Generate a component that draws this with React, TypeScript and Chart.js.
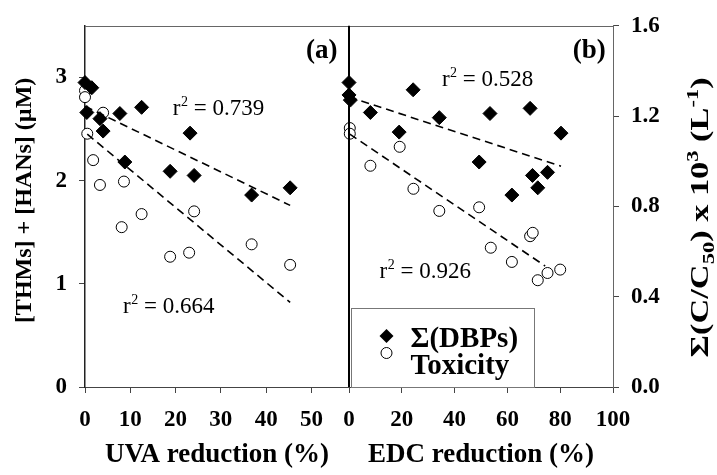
import React, { useEffect, useRef } from "react";
import { Chart, registerables } from "chart.js";

Chart.register(...registerables);

const FONT = "'Liberation Serif', 'Times New Roman', serif";

// ---- axis ranges & tick labels ----
const UVA_MAX = 58.3;
const EDC_MAX = 100;
const DBP_MAX = 3.5;
const TOX_MAX = 1.6;
const uvaTicks = [0, 10, 20, 30, 40, 50];
const edcTicks = [0, 20, 40, 60, 80, 100];
const dbpTicks = [0, 1, 2, 3];
const toxTicks = [0, 0.4, 0.8, 1.2, 1.6];

// ---- panel (a): UVA reduction ----
const uvaDbpX = [0, 1.5, 0.4, 3.3, 7.7, 12.5, 4.0, 23.2, 8.8, 18.8, 24.1, 36.8, 45.3];
const uvaDbpY = [2.95, 2.9, 2.66, 2.6, 2.65, 2.71, 2.48, 2.46, 2.18, 2.09, 2.05, 1.86, 1.93];
const uvaToxX = [0, 0, 4.0, 0.5, 1.8, 3.3, 8.6, 12.5, 8.1, 18.8, 23.0, 24.1, 36.8, 45.3];
const uvaToxY = [1.313, 1.284, 1.215, 1.122, 1.005, 0.895, 0.91, 0.766, 0.708, 0.577, 0.595, 0.778, 0.632, 0.541];
const uvaDbpFitX = [0, 45.3];
const uvaDbpFitY = [2.72, 1.76];
const uvaToxFitX = [0.5, 45.3];
const uvaToxFitY = [1.12, 0.375];

// ---- panel (b): EDC reduction ----
const edcDbpX = [0, 0, 0.5, 8.1, 24.3, 19.0, 34.2, 53.4, 68.6, 80.3, 49.3, 69.5, 75.2, 71.5, 61.7];
const edcDbpY = [2.95, 2.83, 2.78, 2.66, 2.88, 2.47, 2.61, 2.65, 2.7, 2.46, 2.18, 2.05, 2.08, 1.93, 1.86];
const edcToxX = [0.3, 0.3, 19.2, 8.1, 24.4, 34.2, 49.3, 53.7, 61.7, 68.6, 69.6, 71.5, 75.2, 80.0];
const edcToxY = [1.147, 1.122, 1.064, 0.98, 0.878, 0.78, 0.796, 0.617, 0.554, 0.668, 0.683, 0.473, 0.505, 0.52];
const edcDbpFitX = [0, 80.3];
const edcDbpFitY = [2.81, 2.14];
const edcToxFitX = [0.3, 74.3];
const edcToxFitY = [1.12, 0.536];

// ---- annotations (data units) ----
const r2Values = ["0.739", "0.664", "0.528", "0.926"];
const r2Axis = ["xa", "xa", "xb", "xb"];
const r2X = [19.4, 8.4, 35.2, 11.6];
const r2Y = [2.64, 0.72, 2.92, 1.06];
const panelLabels = ["(a)", "(b)"];
const panelAxis = ["xa", "xb"];
const panelX = [52.3, 91];
const panelY = [3.26, 3.26];
const legendLabels = ["Σ(DBPs)", "Toxicity"];

const pts = (xs: number[], ys: number[]) => xs.map((x, i) => ({ x, y: ys[i] }));

const overlay = {
  id: "overlay",
  afterDatasetsDraw(chart: any) {
    const { ctx, chartArea: ca, scales } = chart;
    const y = scales.y;
    const xb = scales.xb;
    ctx.save();
    // top border
    ctx.strokeStyle = "#666";
    ctx.lineWidth = 1;
    ctx.beginPath();
    ctx.moveTo(ca.left, Math.round(ca.top) + 0.5);
    ctx.lineTo(ca.right, Math.round(ca.top) + 0.5);
    ctx.stroke();
    // divider between panels
    ctx.strokeStyle = "#000";
    ctx.lineWidth = 2;
    ctx.beginPath();
    ctx.moveTo(xb.left, ca.top);
    ctx.lineTo(xb.left, ca.bottom);
    ctx.stroke();

    ctx.fillStyle = "#000";
    // r^2 labels
    for (let i = 0; i < r2Values.length; i++) {
      const px = scales[r2Axis[i]].getPixelForValue(r2X[i]);
      const py = y.getPixelForValue(r2Y[i]);
      ctx.textBaseline = "alphabetic";
      ctx.textAlign = "left";
      ctx.font = `23px ${FONT}`;
      ctx.fillText("r", px, py);
      let w = ctx.measureText("r").width;
      ctx.font = `14px ${FONT}`;
      ctx.fillText("2", px + w + 0.5, py - 9);
      w += ctx.measureText("2").width + 0.5;
      ctx.font = `23px ${FONT}`;
      ctx.fillText(" = " + r2Values[i], px + w, py);
    }
    // panel labels
    ctx.font = `bold 27px ${FONT}`;
    ctx.textAlign = "center";
    ctx.textBaseline = "middle";
    for (let i = 0; i < panelLabels.length; i++) {
      const px = scales[panelAxis[i]].getPixelForValue(panelX[i]);
      const py = y.getPixelForValue(panelY[i]);
      ctx.fillText(panelLabels[i], px, py);
    }

    // legend box
    const lx = xb.left + 1.5;
    const lw = 183;
    const lh = 79;
    const ly = ca.bottom - lh;
    ctx.fillStyle = "#fff";
    ctx.fillRect(lx, ly, lw, lh);
    ctx.strokeStyle = "#777";
    ctx.lineWidth = 1;
    ctx.strokeRect(Math.round(lx) + 0.5, Math.round(ly) + 0.5, lw, lh);
    const mx = lx + 36;
    // diamond
    const dy = ly + 28;
    ctx.fillStyle = "#000";
    ctx.beginPath();
    ctx.moveTo(mx, dy - 7);
    ctx.lineTo(mx + 7, dy);
    ctx.lineTo(mx, dy + 7);
    ctx.lineTo(mx - 7, dy);
    ctx.closePath();
    ctx.fill();
    // circle
    const cy = ly + 45;
    ctx.fillStyle = "#fff";
    ctx.strokeStyle = "#000";
    ctx.beginPath();
    ctx.arc(mx, cy, 5.5, 0, Math.PI * 2);
    ctx.fill();
    ctx.stroke();
    ctx.fillStyle = "#000";
    ctx.font = `bold 29px ${FONT}`;
    ctx.textAlign = "left";
    ctx.textBaseline = "middle";
    ctx.fillText(legendLabels[0], lx + 60, ly + 32);
    ctx.fillText(legendLabels[1], lx + 60, ly + 59);

    // right axis title with sub/superscripts
    const segs = [
      { t: "Σ(C/C", k: 0 },
      { t: "50", k: 1 },
      { t: ") x 10", k: 0 },
      { t: "3", k: 2 },
      { t: " (L", k: 0 },
      { t: "-1", k: 2 },
      { t: ")", k: 0 },
    ];
    const fonts = [`bold 26px ${FONT}`, `bold 17px ${FONT}`, `bold 17px ${FONT}`];
    const offs = [0, 6, -10];
    let total = 0;
    for (const s of segs) {
      ctx.font = fonts[s.k];
      total += ctx.measureText(s.t).width;
    }
    const target = 280;
    const cxT = scales.y2.right - 18;
    const cyT = (ca.top + ca.bottom) / 2 + 11;
    ctx.translate(cxT, cyT);
    ctx.rotate(-Math.PI / 2);
    ctx.scale(target / total, 1);
    let x = -total / 2;
    ctx.textAlign = "left";
    ctx.textBaseline = "alphabetic";
    for (const s of segs) {
      ctx.font = fonts[s.k];
      ctx.fillText(s.t, x, 9 + offs[s.k]);
      x += ctx.measureText(s.t).width;
    }
    ctx.restore();
  },
};

export default function App() {
  const ref = useRef<HTMLCanvasElement>(null);
  useEffect(() => {
    const canvas = ref.current!;
    const diamond = {
      type: "scatter",
      pointStyle: "rectRot",
      pointRadius: 7,
      backgroundColor: "#000",
      borderColor: "#000",
      borderWidth: 1,
      clip: false,
    };
    const circle = {
      type: "scatter",
      pointStyle: "circle",
      pointRadius: 5.5,
      backgroundColor: "#fff",
      borderColor: "#000",
      borderWidth: 1,
      clip: false,
    };
    const fit = {
      type: "line",
      borderColor: "#000",
      borderWidth: 1.6,
      borderDash: [8, 5],
      pointRadius: 0,
      fill: false,
      tension: 0,
      showLine: true,
      clip: false,
    };
    const datasets: any[] = [
      { ...fit, label: "fit a1", data: pts(uvaDbpFitX, uvaDbpFitY), xAxisID: "xa", yAxisID: "y" },
      { ...fit, label: "fit a2", data: pts(uvaToxFitX, uvaToxFitY), xAxisID: "xa", yAxisID: "y2" },
      { ...fit, label: "fit b1", data: pts(edcDbpFitX, edcDbpFitY), xAxisID: "xb", yAxisID: "y" },
      { ...fit, label: "fit b2", data: pts(edcToxFitX, edcToxFitY), xAxisID: "xb", yAxisID: "y2" },
      { ...diamond, label: "Σ(DBPs) a", data: pts(uvaDbpX, uvaDbpY), xAxisID: "xa", yAxisID: "y" },
      { ...circle, label: "Toxicity a", data: pts(uvaToxX, uvaToxY), xAxisID: "xa", yAxisID: "y2" },
      { ...diamond, label: "Σ(DBPs) b", data: pts(edcDbpX, edcDbpY), xAxisID: "xb", yAxisID: "y" },
      { ...circle, label: "Toxicity b", data: pts(edcToxX, edcToxY), xAxisID: "xb", yAxisID: "y2" },
    ];
    const tickFont = { family: FONT, size: 23, weight: "bold" as const };
    const grid = { drawOnChartArea: false, drawTicks: true, tickLength: 6, color: "#444", lineWidth: 1 };
    const chart = new Chart(canvas, {
      type: "scatter",
      data: { datasets },
      options: {
        responsive: false,
        animation: false,
        devicePixelRatio: 1,
        layout: { padding: { top: 23, left: 0, right: 0, bottom: 0 } },
        plugins: { legend: { display: false }, tooltip: { enabled: false } },
        scales: {
          xa: {
            type: "linear",
            position: "bottom",
            stack: "x",
            stackWeight: 1,
            min: 0,
            max: UVA_MAX,
            afterBuildTicks: (s: any) => {
              s.ticks = uvaTicks.map((value) => ({ value }));
            },
            afterFit: (s: any) => {
              s.height = 88;
            },
            grid,
            border: { display: true, color: "#444", width: 1 },
            ticks: { color: "#000", font: tickFont, padding: 13, maxRotation: 0, autoSkip: false },
            title: {
              display: true,
              text: "UVA reduction (%)",
              color: "#000",
              font: { family: FONT, size: 27, weight: "bold" },
              padding: { top: 0, bottom: 4 },
            },
          },
          xb: {
            type: "linear",
            position: "bottom",
            stack: "x",
            stackWeight: 1,
            min: 0,
            max: EDC_MAX,
            afterBuildTicks: (s: any) => {
              s.ticks = edcTicks.map((value) => ({ value }));
            },
            afterFit: (s: any) => {
              s.height = 88;
            },
            grid,
            border: { display: true, color: "#444", width: 1 },
            ticks: { color: "#000", font: tickFont, padding: 13, maxRotation: 0, autoSkip: false },
            title: {
              display: true,
              text: "EDC reduction (%)",
              color: "#000",
              font: { family: FONT, size: 27, weight: "bold" },
              padding: { top: 0, bottom: 4 },
            },
          },
          y: {
            type: "linear",
            position: "left",
            min: 0,
            max: DBP_MAX,
            afterBuildTicks: (s: any) => {
              s.ticks = dbpTicks.map((value) => ({ value }));
            },
            afterFit: (s: any) => {
              s.width = 85;
            },
            grid,
            border: { display: true, color: "#222", width: 1.5 },
            ticks: { color: "#000", font: tickFont, padding: 12 },
            title: {
              display: true,
              text: "  [THMs] + [HANs] (µM)",
              color: "#000",
              font: { family: FONT, size: 24, weight: "bold" },
              padding: { top: 10, bottom: 0 },
            },
          },
          y2: {
            type: "linear",
            position: "right",
            min: 0,
            max: TOX_MAX,
            afterBuildTicks: (s: any) => {
              s.ticks = toxTicks.map((value) => ({ value }));
            },
            afterFit: (s: any) => {
              s.width = 104;
            },
            grid,
            border: { display: true, color: "#666", width: 1 },
            ticks: {
              color: "#000",
              font: tickFont,
              padding: 12,
              callback: (v: any) => Number(v).toFixed(1),
            },
          },
        },
      } as any,
      plugins: [overlay],
    });
    return () => chart.destroy();
  }, []);
  return (
    <div style={{ position: "fixed", left: 0, top: 0, width: 717, height: 475, background: "#fff" }}>
      <canvas ref={ref} width={717} height={475} style={{ display: "block", width: 717, height: 475 }} />
    </div>
  );
}
